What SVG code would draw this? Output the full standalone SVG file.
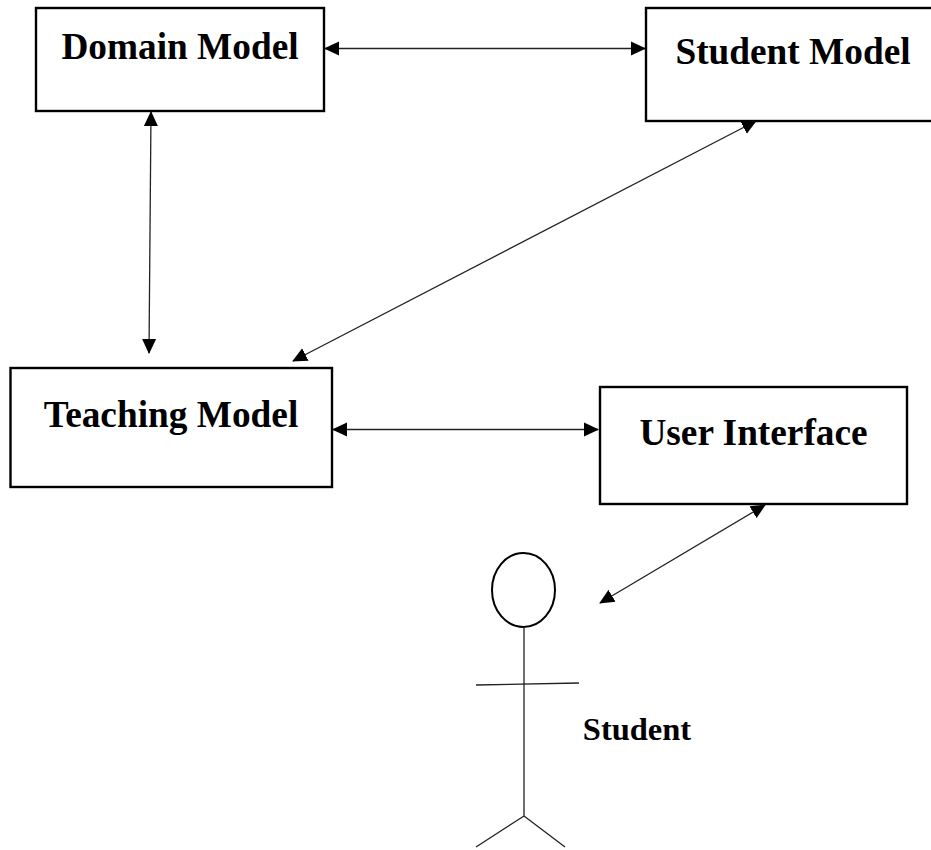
<svg xmlns="http://www.w3.org/2000/svg" width="931" height="850" viewBox="0 0 931 850">
<style>
.box{fill:#fff;stroke:#000;stroke-width:2.4}
.t{font-family:"Liberation Serif",serif;font-weight:bold;font-size:37.3px;fill:#000;text-anchor:middle}
.c{fill:none;stroke:#222;stroke-width:1.3;marker-start:url(#a);marker-end:url(#a)}
.f{fill:none;stroke:#222;stroke-width:1.3}
</style>
<defs><marker id="a" markerUnits="userSpaceOnUse" markerWidth="15" markerHeight="15" refX="14" refY="7.5" orient="auto-start-reverse"><path d="M0 0.5L15 7.5L0 14.5Z" fill="#000"/></marker></defs>
<rect width="931" height="850" fill="#fff"/>
<g id="connectors">
<path class="c" d="M325 48.5H645"/>
<path class="c" d="M151 112L149 353"/>
<path class="c" d="M756 121L293 361"/>
<path class="c" d="M333 429.5H598"/>
<path class="c" d="M765 505L600 603"/>
</g>
<g id="domain"><rect class="box" x="36" y="8" width="288" height="103"/><text class="t" x="180" y="59">Domain Model</text></g>
<g id="studentmodel"><rect class="box" x="646" y="8" width="287" height="113"/><text class="t" x="793" y="64">Student Model</text></g>
<g id="teaching"><rect class="box" x="10.5" y="368" width="321.5" height="119"/><text class="t" x="171" y="427">Teaching Model</text></g>
<g id="ui"><rect class="box" x="600" y="387" width="307" height="117"/><text class="t" x="753.5" y="445">User Interface</text></g>
<g id="student">
<ellipse cx="523.5" cy="590" rx="31.5" ry="37" fill="none" stroke="#000" stroke-width="2"/>
<path class="f" d="M524 627V816M476 685L579 683M524 816L476 847M524 816L565 847"/>
<text x="637" y="740" style="font-family:'Liberation Serif',serif;font-weight:bold;font-size:32.5px" text-anchor="middle">Student</text>
</g>
</svg>
